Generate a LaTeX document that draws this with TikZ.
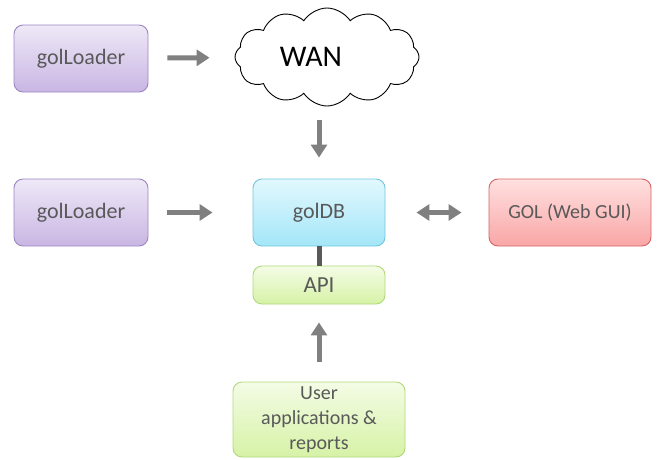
\documentclass[tikz,border=0pt]{standalone}
\usepackage{fontspec}
\setmainfont{Carlito}
\usetikzlibrary{shapes.symbols,arrows.meta}

\definecolor{txtgray}{HTML}{595959}
\definecolor{arrgray}{HTML}{808080}
\definecolor{ldrB}{HTML}{9D86C2}
\definecolor{ldrT}{HTML}{EEE8F7}
\definecolor{ldrD}{HTML}{C9B6E3}
\definecolor{dbB}{HTML}{72C6DD}
\definecolor{dbT}{HTML}{E2F8FE}
\definecolor{dbD}{HTML}{A3E6F8}
\definecolor{guiB}{HTML}{D66464}
\definecolor{guiT}{HTML}{FFE0E0}
\definecolor{guiD}{HTML}{F9A6A6}
\definecolor{apiB}{HTML}{AFD97A}
\definecolor{apiT}{HTML}{F4FCE6}
\definecolor{apiD}{HTML}{D6F2A6}

\tikzset{
  gbox/.style={draw, rounded corners=9pt, line width=0.9pt, text=txtgray,
    minimum width=134pt, minimum height=67pt, font=\fontsize{22}{25}\selectfont},
  loader/.style={gbox, draw=ldrB, top color=ldrT, bottom color=ldrD},
  flow/.style={line width=5pt, draw=arrgray, -{Triangle[length=13pt,width=16pt]}},
}

\begin{document}
\begin{tikzpicture}[x=1pt, y=-1pt]
\useasboundingbox (0,0) rectangle (659,459);

% top row
\node[loader] (ldrtop) at (81,58.5) {golLoader};
\node[cloud, draw, line width=0.9pt, fill=white, cloud puffs=12, cloud puff arc=115,
  aspect=1.9, minimum width=184pt, minimum height=98pt, inner sep=0pt,
  font=\fontsize{30}{33}\selectfont] (wan) at (327,57) {\raisebox{-3pt}{WAN}\kern32pt};

% middle row
\node[loader] (ldrmid) at (81,212.5) {golLoader};
\node[gbox, draw=dbB, top color=dbT, bottom color=dbD, minimum width=132pt] (goldb) at (319,212.5) {golDB};
\node[gbox, draw=guiB, top color=guiT, bottom color=guiD, minimum width=162pt,
  font=\fontsize{20}{23}\selectfont] (gui) at (570,212.5) {GOL (Web GUI)};
\node[gbox, draw=apiB, top color=apiT, bottom color=apiD, minimum width=132pt,
  minimum height=38pt, font=\fontsize{23}{26}\selectfont] (api) at (319,285) {API};

% bottom
\node[gbox, draw=apiB, top color=apiT, bottom color=apiD, minimum width=172pt,
  minimum height=75pt, align=center, font=\fontsize{20}{25}\selectfont]
  (userapp) at (319,419.5) {User\\applications \&\\reports};

% connectors
\draw[flow, shorten <=19pt, shorten >=25pt] (ldrtop) -- (wan);
\draw[flow, shorten <=14pt, shorten >=21pt] (goldb |- wan.south) -- (goldb);
\draw[flow, shorten <=19pt, shorten >=40pt] (ldrmid) -- (goldb);
\draw[flow, {Triangle[length=13pt,width=16pt]}-{Triangle[length=13pt,width=16pt]},
  shorten <=31pt, shorten >=27pt] (goldb) -- (gui);
\draw[line width=5pt, draw=txtgray] (goldb) -- (api);
\draw[flow, shorten <=20pt, shorten >=18pt] (userapp) -- (api);
\end{tikzpicture}
\end{document}
